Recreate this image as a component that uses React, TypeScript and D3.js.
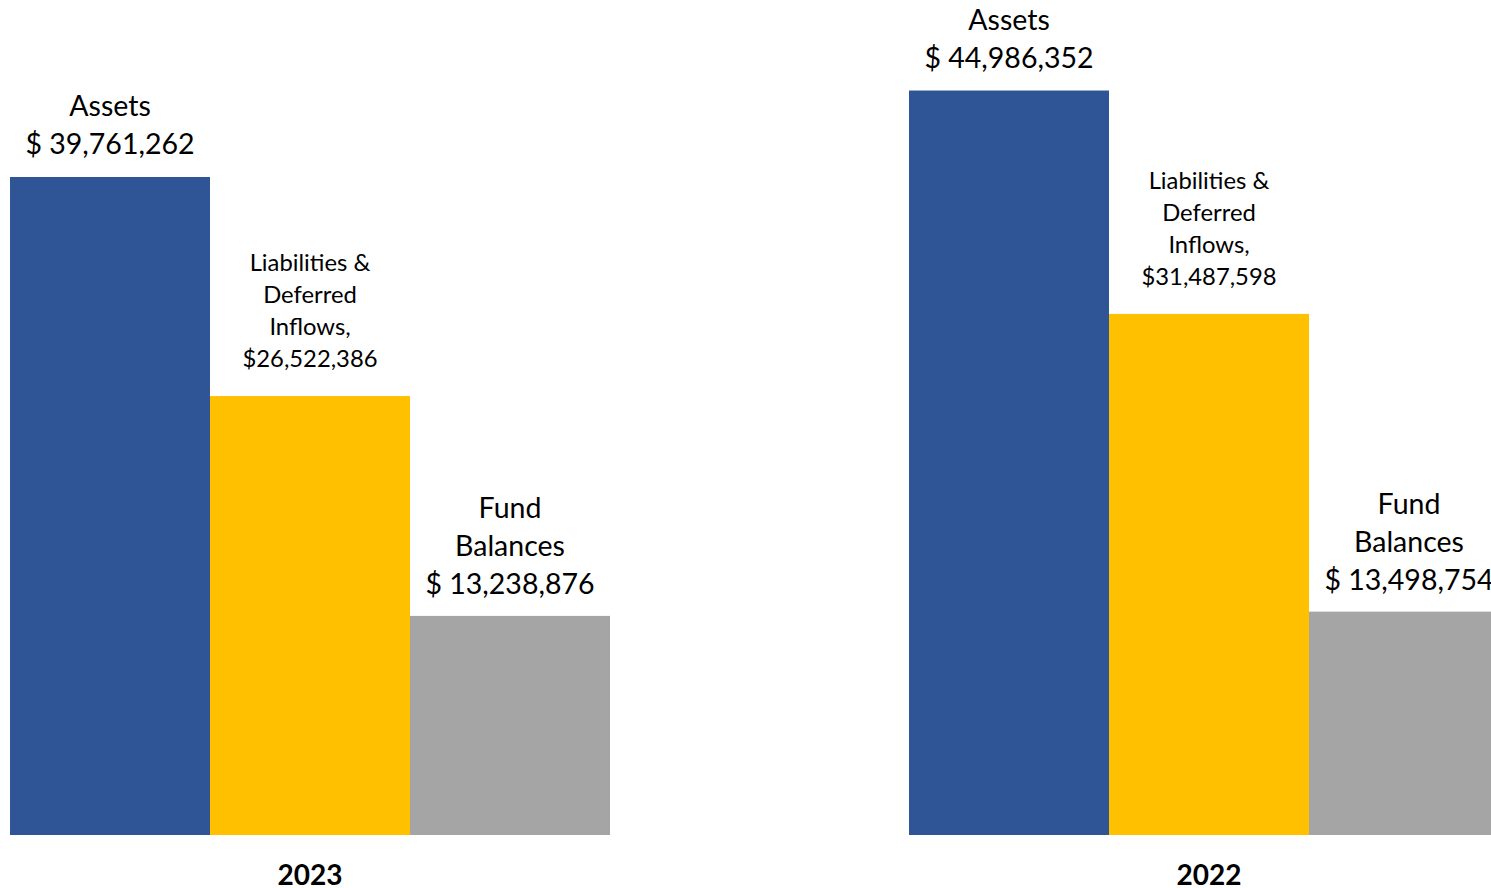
import React, { useEffect, useRef } from "react";
import * as d3 from "d3";

const years: string[] = ["2023", "2022"];
const categories: string[] = ["Assets", "Liabilities", "Fund"];
const values2023: number[] = [39761262, 26522386, 13238876];
const values2022: number[] = [44986352, 31487598, 13498754];
const labels2023: string[][] = [
  ["Assets", "$ 39,761,262"],
  ["Liabilities &", "Deferred", "Inflows,", "$26,522,386"],
  ["Fund", "Balances", "$ 13,238,876"],
];
const labels2022: string[][] = [
  ["Assets", "$ 44,986,352"],
  ["Liabilities &", "Deferred", "Inflows,", "$31,487,598"],
  ["Fund", "Balances", "$ 13,498,754"],
];

const colors = ["#2F5597", "#FFC000", "#A5A5A5"];

const App: React.FC = () => {
  const svgRef = useRef<SVGSVGElement | null>(null);

  useEffect(() => {
    const svg = d3.select(svgRef.current);
    svg.selectAll("*").remove();

    const width = 1491;
    const height = 888;
    const baseline = 835;
    const font = "Lato, 'Open Sans', sans-serif";

    const rows = years.map((y, i) => ({
      year: y,
      values: i === 0 ? values2023 : values2022,
      labels: i === 0 ? labels2023 : labels2022,
    }));

    const x0 = d3
      .scaleBand()
      .domain(years)
      .range([10, 1509])
      .paddingInner(0.3326)
      .paddingOuter(0);

    const x1 = d3
      .scaleBand()
      .domain(categories)
      .range([0, x0.bandwidth()])
      .padding(0);

    const y = d3.scaleLinear().domain([0, 50456000]).range([baseline, 0]);

    const labelStyle = [
      { size: 28.5, lh: 38, gap: 23 },
      { size: 23.8, lh: 32, gap: 29 },
      { size: 28.5, lh: 38, gap: 22 },
    ];

    rows.forEach((row) => {
      const g = svg
        .append("g")
        .attr("transform", `translate(${x0(row.year)},0)`);

      g.selectAll("rect")
        .data(row.values)
        .join("rect")
        .attr("x", (_, i) => x1(categories[i])!)
        .attr("y", (d) => y(d))
        .attr("width", x1.bandwidth())
        .attr("height", (d) => baseline - y(d))
        .attr("fill", (_, i) => colors[i]);

      row.values.forEach((v, i) => {
        const st = labelStyle[i];
        const lines = row.labels[i];
        const cx = x1(categories[i])! + x1.bandwidth() / 2;
        const lastBase = y(v) - st.gap;
        g.append("g")
          .selectAll("text")
          .data(lines)
          .join("text")
          .attr("x", cx)
          .attr("y", (_, k) => lastBase - (lines.length - 1 - k) * st.lh)
          .attr("text-anchor", "middle")
          .attr("font-family", font)
          .attr("font-size", st.size)
          .attr("fill", "#000")
          .text((d) => d);
      });

      svg
        .append("text")
        .attr("x", x0(row.year)! + x0.bandwidth() / 2)
        .attr("y", 885)
        .attr("text-anchor", "middle")
        .attr("font-family", font)
        .attr("font-weight", "bold")
        .attr("font-size", 28)
        .attr("fill", "#000")
        .text(row.year);
    });

    svg.attr("width", width).attr("height", height);
  }, []);

  return (
    <svg
      ref={svgRef}
      style={{ position: "absolute", left: 0, top: 0, background: "#fff" }}
    ></svg>
  );
};

export default App;
